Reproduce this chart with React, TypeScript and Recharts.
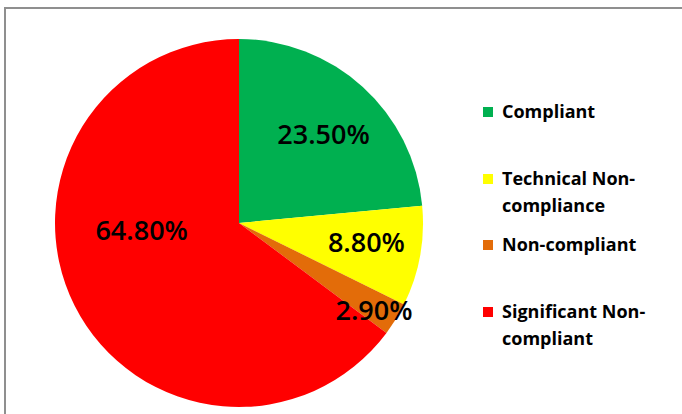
import { PieChart, Pie, Cell, Legend } from "recharts";

const categories = ["Compliant", "Technical Non-compliance", "Non-compliant", "Significant Non-compliant"];
const shares = [23.5, 8.8, 2.9, 64.8];
const sliceColors = ["#00B050", "#FFFF00", "#E36C09", "#FF0000"];

// Excel's "best fit" label spots: radius fraction and angle nudge per slice
const labelRadius = [0.67, 0.7, 0.87, 0.53];
const labelNudge = [-1, 2, -1, -23];

const data = categories.map((name, i) => ({ name, value: shares[i] }));

const RADIAN = Math.PI / 180;

const renderLabel = (props: any) => {
  const { cx, cy, midAngle, outerRadius, index, value } = props;
  const r = outerRadius * labelRadius[index];
  const a = (midAngle + labelNudge[index]) * RADIAN;
  const x = cx + r * Math.cos(-a);
  const y = cy + r * Math.sin(-a);
  return (
    <text
      x={x}
      y={y}
      fill="#000"
      textAnchor="middle"
      dominantBaseline="central"
      style={{ fontFamily: "'Open Sans', sans-serif", fontSize: 27, fontWeight: 600 }}
    >
      {`${value.toFixed(2)}%`}
    </text>
  );
};

// legend keeps the slice order (recharts would sort it by name)
const renderLegend = () => (
  <div style={{ width: 180, fontFamily: "'Open Sans', sans-serif", fontSize: 18, fontWeight: 700, color: "#000", lineHeight: "27px" }}>
    {categories.map((name, i) => (
      <div key={`leg-${i}`} style={{ display: "flex", alignItems: "flex-start", height: 66.7 }}>
        <span style={{ width: 10, height: 10, background: sliceColors[i], marginTop: 9, marginRight: 9, flexShrink: 0 }} />
        <span style={{ width: 158 }}>{name}</span>
      </div>
    ))}
  </div>
);

export default function App() {
  return (
    <div style={{ position: "fixed", left: 0, top: 0, width: 682, height: 414, background: "#fff", overflow: "hidden" }}>
      <div
        style={{
          position: "absolute",
          left: 4,
          top: 7,
          width: 700,
          height: 430,
          borderTop: "2px solid #8f8f8f",
          borderLeft: "2px solid #8f8f8f",
        }}
      />
      <div style={{ position: "absolute", left: 0, top: 0 }}>
        <PieChart width={682} height={414} margin={{ top: 0, right: 0, bottom: 0, left: 0 }}>
          <Pie
            data={data}
            dataKey="value"
            nameKey="name"
            cx={239}
            cy={223}
            outerRadius={184}
            startAngle={90}
            endAngle={-270}
            stroke="none"
            label={renderLabel}
            labelLine={false}
            isAnimationActive={false}
          >
            {data.map((entry, i) => (
              <Cell key={`cell-${i}`} fill={sliceColors[i]} />
            ))}
          </Pie>
          <Legend
            layout="vertical"
            content={renderLegend}
            wrapperStyle={{ position: "absolute", left: 483, top: 98, width: 190 }}
          />
        </PieChart>
      </div>
    </div>
  );
}
